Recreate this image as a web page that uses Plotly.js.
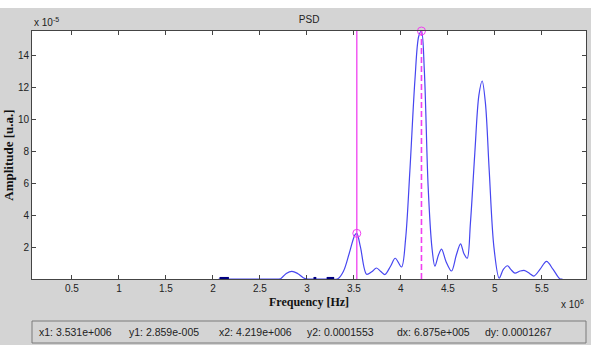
<!DOCTYPE html>
<html>
<head>
<meta charset="utf-8">
<script src="https://cdn.plot.ly/plotly-3.0.1.min.js"></script>
<style>
  html, body { margin: 0; padding: 0; background: #ffffff; }
  #chart { position: absolute; left: 0; top: 8px; width: 591px; height: 337px; }
</style>
</head>
<body>
<div id="chart"></div>
<script>
// Frequency in units of 1e6 Hz, amplitude in units of 1e-5
const freq = [2.06, 2.1, 2.2, 2.4, 2.6, 2.72, 2.78, 2.84, 2.9, 2.98, 3.05, 3.2, 3.33, 3.39, 3.45, 3.51, 3.531, 3.57, 3.635, 3.69, 3.74, 3.79, 3.83, 3.89, 3.94, 4.007, 4.05, 4.096, 4.15, 4.19, 4.219, 4.25, 4.29, 4.33, 4.362, 4.40, 4.433, 4.48, 4.539, 4.59, 4.635, 4.67, 4.706, 4.74, 4.787, 4.83, 4.865, 4.90, 4.94, 4.99, 5.046, 5.09, 5.135, 5.17, 5.213, 5.27, 5.319, 5.37, 5.415, 5.48, 5.55, 5.62, 5.69, 5.72];
const amp = [0, 0, 0, 0, 0, 0.02, 0.35, 0.48, 0.35, 0.02, 0, 0, 0.02, 0.5, 1.6, 2.75, 2.859, 2.0, 0.3, 0.45, 0.69, 0.45, 0.28, 0.8, 1.3, 0.75, 2.5, 6.8, 12.5, 15.2, 15.53, 13.0, 5.8, 2.0, 0.8, 1.5, 1.87, 1.1, 0.5, 1.5, 2.2, 1.6, 1.3, 3.5, 7.9, 11.5, 12.4, 11.0, 6.8, 2.0, 0.05, 0.6, 0.83, 0.6, 0.37, 0.5, 0.53, 0.35, 0.18, 0.6, 1.1, 0.6, 0.02, 0];
// dark near-zero segments on the baseline
const darkX = [2.07, 2.17, null, 3.07, 3.10, null, 3.21, 3.29];
const darkY = [0.05, 0.05, null, 0.05, 0.05, null, 0.05, 0.05];
// data cursors
const cursorX = [3.531, 4.219];
const cursorY = [2.859, 15.53];
const xTicks = [0.5, 1, 1.5, 2, 2.5, 3, 3.5, 4, 4.5, 5, 5.5];
const xTickText = ['0.5', '1', '1.5', '2', '2.5', '3', '3.5', '4', '4.5', '5', '5.5'];
const yTicks = [2, 4, 6, 8, 10, 12, 14];
const yTickText = ['2', '4', '6', '8', '10', '12', '14'];
const statusText = ['x1: 3.531e+006', 'y1: 2.859e-005', 'x2: 4.219e+006', 'y2: 0.0001553', 'dx: 6.875e+005', 'dy: 0.0001267'];
const xRange = [0.0745, 5.97];
const yRange = [0, 15.53];

const magenta = '#f040f0';
const traces = [
  { x: freq, y: amp, type: 'scatter', mode: 'lines', line: { color: '#4646f0', width: 1.2, shape: 'spline', smoothing: 0.9 }, hoverinfo: 'skip' },
  { x: darkX, y: darkY, type: 'scatter', mode: 'lines', line: { color: '#000080', width: 2.5 }, hoverinfo: 'skip' },
  { x: [cursorX[0], cursorX[0]], y: yRange, type: 'scatter', mode: 'lines', line: { color: magenta, width: 1.3 } },
  { x: [cursorX[1], cursorX[1]], y: yRange, type: 'scatter', mode: 'lines', line: { color: magenta, width: 1.6, dash: '6px,3px' } },
  { x: cursorX, y: cursorY, type: 'scatter', mode: 'markers', cliponaxis: false, marker: { symbol: 'circle-open', size: 8, color: magenta, line: { width: 1, color: magenta } } }
];

// pixel -> paper helper (plot area spans Y 31..279 in the picture, X 32..586)
const py = Y => (279 - Y) / 248;
const px = X => (X - 32) / 554;
const statusX = [37, 127, 217, 305, 395, 483];

const annotations = [
  { text: 'x 10<sup>-5</sup>', x: 0, xanchor: 'left', y: py(22), yanchor: 'middle', xref: 'paper', yref: 'paper', showarrow: false, font: { family: 'Liberation Sans, Arial, sans-serif', size: 10, color: '#222' } },
  { text: 'x 10<sup>6</sup>', x: px(586), xanchor: 'right', y: py(304), yanchor: 'middle', xref: 'paper', yref: 'paper', showarrow: false, font: { family: 'Liberation Sans, Arial, sans-serif', size: 10, color: '#222' } }
];
statusText.forEach((t, i) => {
  annotations.push({ text: t, x: px(statusX[i]), xanchor: 'left', y: py(332), yanchor: 'middle', xref: 'paper', yref: 'paper', showarrow: false, font: { family: 'Liberation Sans, Arial, sans-serif', size: 10.5, color: '#222' } });
});

const layout = {
  width: 591, height: 337,
  margin: { l: 32, r: 5, t: 23, b: 66 },
  paper_bgcolor: '#d4d4d4',
  plot_bgcolor: '#ffffff',
  showlegend: false,
  title: { text: 'PSD', x: 0.523, xanchor: 'center', y: 1 - 11 / 337, yanchor: 'middle', font: { family: 'Liberation Sans, Arial, sans-serif', size: 10, color: '#222' } },
  xaxis: {
    range: xRange, tickvals: xTicks, ticktext: xTickText,
    ticks: 'inside', ticklen: 4, tickcolor: '#444', mirror: 'ticks', showline: true, linecolor: '#444', linewidth: 1,
    showgrid: false, zeroline: false,
    tickfont: { family: 'Liberation Sans, Arial, sans-serif', size: 10, color: '#222' },
    title: { text: '<b>Frequency [Hz]</b>', standoff: 4, font: { family: 'Liberation Serif, Times New Roman, serif', size: 12, color: '#111' } }
  },
  yaxis: {
    range: yRange, tickvals: yTicks, ticktext: yTickText,
    ticks: 'inside', ticklen: 4, tickcolor: '#444', mirror: 'ticks', showline: true, linecolor: '#444', linewidth: 1,
    showgrid: false, zeroline: false,
    tickfont: { family: 'Liberation Sans, Arial, sans-serif', size: 10, color: '#222' },
    title: { text: '<b>Amplitude [u.a.]</b>', standoff: 1, font: { family: 'Liberation Serif, Times New Roman, serif', size: 13, color: '#111' } }
  },
  shapes: [
    { type: 'rect', xref: 'paper', yref: 'paper', x0: 0, x1: 1, y0: py(343), y1: py(321), line: { color: '#7a7a7a', width: 1 }, fillcolor: 'rgba(0,0,0,0)' }
  ],
  annotations: annotations
};

Plotly.newPlot('chart', traces, layout, { displayModeBar: false, staticPlot: true });
</script>
</body>
</html>
